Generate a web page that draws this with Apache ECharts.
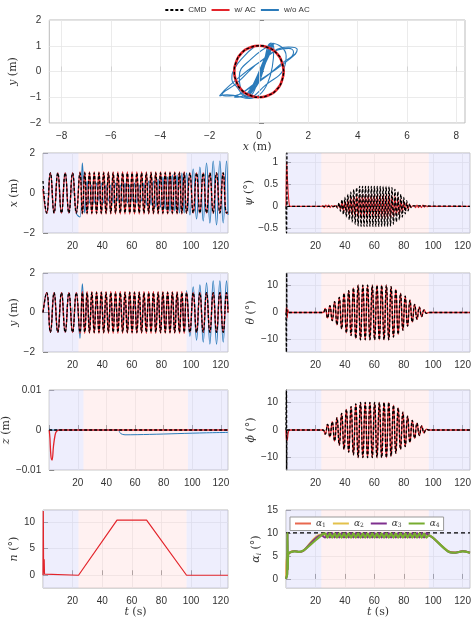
<!DOCTYPE html>
<html><head><meta charset="utf-8">
<script src="https://cdn.jsdelivr.net/npm/echarts@6/dist/echarts.min.js"></script>
<style>html,body{margin:0;padding:0;background:#fff}#c{width:474px;height:619px}</style>
</head><body><div id="c"></div>
<script>
// ---------- data ----------
const circX=[1,0.92,0.71,0.38,0,-0.38,-0.71,-0.92,-1,-0.92,-0.71,-0.38,0,0.38,0.71,0.92,1];
const circY=[0,0.38,0.71,0.92,1,0.92,0.71,0.38,0,-0.38,-0.71,-0.92,-1,-0.92,-0.71,-0.38,0];
const blueXY=[[-0.2,0.95],[-0.6,0.6],[-1.0,0.1],[-1.1,-0.3],[-0.9,-0.6],[-0.5,-1.0],[0.0,-0.3],[0.5,1.1],[0.6,0.9],[-0.4,-1.05],[-1.3,-0.9],[-1.6,-0.95],[-1.2,-0.55],[0,0.35],[1.2,0.95],[1.55,0.85],[1.2,0.45],[0,-0.35],[-1.2,-0.95],[-1.5,-0.9],[-0.9,-0.45],[0.2,0.5],[1.2,0.9],[1.4,0.75],[0.9,0.3],[0,-0.4],[-1.0,-1.0],[-0.3,-0.8],[0.4,0.7],[0.55,1.1],[-0.1,-0.5],[-0.5,-1.05],[0.3,0.6],[0.5,1.05],[0.0,-0.2],[-0.45,-1.0],[0.2,0.4],[0.45,1.0],[-0.2,-0.6],[-0.4,-0.95],[0.35,0.8],[0.5,1.1],[1.1,0.6],[1.0,0.1],[0.3,-0.5],[-0.4,-1.0],[-0.8,-0.2],[-0.3,0.5],[0.6,1.1],[0.2,0.2],[-0.5,-0.9]];
const tPre=[0,2.5,5,7.5,10,12.5,15,17.5,20,22.5,25];
const tMid=[26.6,28.2,29.8,31.4,33,34.6,36.2,37.8,39.4,41,42.6,44.2,45.8,47.4,49,50.6,52.2,53.8,55.4,57,58.6,60.2,61.8,63.4,65,66.6,68.2,69.8,71.4,73,74.6,76.2,77.8,79.4,81,82.6,84.2,85.8,87.4,89,90.6,92.2,93.8,95.4,97];
const tPost=[99.25,101.5,103.75,106,108.25,110.5,112.75,115,117.25,119.5,121.75,124,125];
const xCmd=[0.6,-1,1,-1,1,-1,1,-1,1,-1,1, -1,1,-1,1,-1,1,-1,1,-1,1,-1,1,-1,1,-1,1,-1,1,-1,1,-1,1,-1,1,-1,1,-1,1,-1,1,-1,1,-1,1,-1,1,-1,1,-1,1,-1,1,-1,1,-1, 1,-1,1,-1,1,-1,1,-1,1,-1,1,-1,-0.9];
const xRed=[0.2,-1,1,-1,1,-1,1,-1,1,-1,1.05, -1.05,1.05,-1.05,1.05,-1.05,1.05,-1.05,1.05,-1.05,1.05,-1.05,1.05,-1.05,1.05,-1.05,1.05,-1.05,1.05,-1.05,1.05,-1.05,1.05,-1.05,1.05,-1.05,1.05,-1.05,1.05,-1.05,1.05,-1.05,1.05,-1.05,1.05,-1.05,1.05,-1.05,1.05,-1.05,1.05,-1.05,1.05,-1.05,1.05,-1.0, 1,-1,1,-1,1,-1,1,-1,1,-1,1,-1,-1.0];
const xBlue=[0.2,-1,1,-1,1,-1,1,-1,1,-1,-1.2, 1.5,-1.0,0.6,-0.5,0.4,-0.5,0.5,-0.4,0.5,-0.5,0.4,-0.4,0.4,-0.5,0.5,-0.4,0.4,-0.4,0.5,-0.5,0.4,-0.4,0.5,-0.5,0.4,-0.4,0.5,-0.6,0.6,-0.6,0.6,-0.7,0.7,-0.7,0.8,-0.8,0.8,-0.9,0.9,-0.9,0.9,-1,1,-1,1, -1.1,1.2,-1.3,1.3,-1.4,1.5,-1.5,1.6,-1.6,1.6,-1.5,1.6,-1.1];
const yCmd=[0,1,-1,1,-1,1,-1,1,-1,1,-1, 1,-1,1,-1,1,-1,1,-1,1,-1,1,-1,1,-1,1,-1,1,-1,1,-1,1,-1,1,-1,1,-1,1,-1,1,-1,1,-1,1,-1,1,-1,1,-1,1,-1,1,-1,1,-1,1, -1,1,-1,1,-1,1,-1,1,-1,1,-1,1,0];
const yRed=[0,1,-1,1,-1,1,-1,1,-1,1,-1.05, 1.05,-1.05,1.05,-1.05,1.05,-1.05,1.05,-1.05,1.05,-1.05,1.05,-1.05,1.05,-1.05,1.05,-1.05,1.05,-1.05,1.05,-1.05,1.05,-1.05,1.05,-1.05,1.05,-1.05,1.05,-1.05,1.05,-1.05,1.05,-1.05,1.05,-1.05,1.05,-1.05,1.05,-1.05,1.05,-1.05,1.05,-1.05,1.05,-1.05,1.0, -1,1,-1,1,-1,1,-1,1,-1,1,-1,1,0];
const yBlue=[0,1,-1,1,-1,1,-1,1,-1,1,-1.3, 1.45,-0.9,0.6,-0.5,0.5,-0.4,0.4,-0.5,0.4,-0.4,0.5,-0.4,0.4,-0.4,0.4,-0.5,0.5,-0.4,0.4,-0.5,0.5,-0.4,0.4,-0.5,0.5,-0.5,0.5,-0.6,0.6,-0.6,0.7,-0.7,0.7,-0.8,0.8,-0.8,0.9,-0.9,0.9,-1,1,-1,1,-1,1.1, -1.2,1.3,-1.4,1.4,-1.5,1.5,-1.6,1.6,-1.6,1.6,-1.5,1.6,0.2];
const psiT=[34,35,36,37,38,39,40,41,42,43,44,45,46,47,48,49,50,51,52,53,54,55,56,57,58,59,60,61,62,63,64,65,66,67,68,69,70,71,72,73,74,75,76,77,78,79,80,81,82,83,84,85,86];
const psiCmd=[0.02,-0.04,0.08,-0.11,0.15,-0.18,0.2,-0.24,0.27,-0.3,0.32,-0.35,0.38,-0.4,0.42,-0.44,0.45,-0.45,0.45,-0.45,0.45,-0.45,0.45,-0.45,0.45,-0.45,0.45,-0.45,0.45,-0.45,0.45,-0.45,0.45,-0.45,0.45,-0.45,0.45,-0.44,0.42,-0.4,0.38,-0.35,0.33,-0.3,0.27,-0.24,0.2,-0.17,0.13,-0.1,0.06,-0.03,0.01];
const psiRed=[0.01,-0.02,0.05,-0.07,0.09,-0.11,0.12,-0.14,0.16,-0.18,0.19,-0.21,0.23,-0.24,0.25,-0.26,0.27,-0.27,0.27,-0.27,0.27,-0.27,0.27,-0.27,0.27,-0.27,0.27,-0.27,0.27,-0.27,0.27,-0.27,0.27,-0.27,0.27,-0.27,0.27,-0.26,0.25,-0.24,0.23,-0.21,0.2,-0.18,0.16,-0.14,0.12,-0.1,0.08,-0.06,0.04,-0.02,0.01];
const psiCmdHead=[[0,0],[0.4,-0.6],[0.6,1.2],[0.8,0],[34,0]];
const psiCmdTail=[[86,0],[125,0]];
const psiRedHead=[[0,0],[0.4,1.0],[1,0.6],[2,0.1],[3,0],[24,0],[25,0.02],[26,-0.03],[27,0.03],[28,-0.02],[29,0.03],[30,-0.03],[31,0.02],[32,-0.02],[33,0.02]];
const psiRedTail=[[87,0.02],[88,-0.03],[89,0.03],[90,-0.03],[91,0.02],[92,-0.03],[93,0.03],[94,-0.02],[95,0.02],[96,-0.01],[97,0],[125,0]];
const thetaCmd=[1.5,-2,2.5,-3,4,-4.5,5.5,-6,7,-7.5,8,-8.5,9,-9.5,10,-10,10,-10,10,-10,10,-10,10,-10,10,-10,10,-10,9.5,-9,8.5,-8,7,-6.5,6,-5,4.5,-3.5,3,-2.5,2,-1.5,1,-0.3,0];
const thetaCmdHead=[[0,0],[0.3,-14.5],[0.5,14.5],[0.7,0],[25,0]];
const thetaRedHead=[[0,0],[0.4,2],[0.8,-2],[1.3,1],[2,0],[25,0]];
const phiCmd=[-1.5,2,-2.5,3,-4,4.5,-5.5,6,-7,7.5,-8,8.5,-9,9.5,-10,10,-10,10,-10,10,-10,10,-10,10,-10,10,-10,10,-9.5,9,-8.5,8,-7,6.5,-6,5,-4.5,3.5,-3,2.5,-2,1.5,-1,0.3,0];
const phiCmdHead=[[0,0],[0.3,14.5],[0.5,-14.5],[0.7,0],[25,0]];
const phiRedHead=[[0,0],[0.5,-4],[1,-3],[1.5,-1],[2.5,0],[25,0]];
const attTail=[[97,0],[125,0]];
const zCmd=[[0,0],[125,0]];
const zRed=[[0,0],[0.5,-0.002],[1.2,-0.0065],[2,-0.0075],[3,-0.004],[4,-0.0015],[5,-0.0004],[7,0],[125,0]];
const zBlue=[[0,0.0003],[2,0],[48,0],[50,-0.0009],[53,-0.0012],[70,-0.0011],[90,-0.0009],[110,-0.0007],[125,-0.0006]];
const nRed=[[0,0],[0.2,12],[0.4,0.5],[0.8,3],[1,0.2],[1.3,0],[24,0],[50,10.3],[56,10.3],[60,10.3],[64,10.3],[70,10.3],[97,0],[125,0]];
const a1=[[0,0],[0.6,5],[2,5.4],[4,6],[6,6.1],[9,5.9],[12,6.1],[24,9.6],[96,9.6],[100,8.8],[110,6.1],[115,5.8],[120,6.1],[125,5.8]];
const a2=[[0,0],[0.6,5.5],[2,5.6],[4,6.1],[6,6],[9,5.8],[12,6.3],[23.5,9.7],[96.5,9.7],[100,9],[110,6.2],[115,5.7],[120,6.0],[125,5.6]];
const a34Head=[[0,0],[0.8,1],[1,10],[1.2,2],[1.5,5.5],[3,5.8],[6,6],[9,5.9],[12,6.2],[24,9.5]];
const a34Tail=[[97,9.5],[100,8.9],[110,6.0],[115,5.7],[120,6.0],[125,5.7]];
const a3=[9,10,9,10,9,10,9,10,9,10,9,10,9,10,9,10,9,10,9,10,9,10,9,10,9,10,9,10,9,10,9,10,9,10,9,10,9,10,9,10,9,10,9,10,9.5];
const a4=[9.9,9,9.9,9,9.9,9,9.9,9,9.9,9,9.9,9,9.9,9,9.9,9,9.9,9,9.9,9,9.9,9,9.9,9,9.9,9,9.9,9,9.9,9,9.9,9,9.9,9,9.9,9,9.9,9,9.9,9,9.9,9,9.9,9,9.5];
const alphaMax=[[0,10],[125,10]];
const xTicksTop=[-8,-6,-4,-2,0,2,4,6,8];

// ---------- build ----------
const tAll=tPre.concat(tMid,tPost);
const pair=(t,v)=>t.slice(0,Math.min(t.length,v.length)).map((x,i)=>[x,v[i]]);
const C_CMD='#000',C_RED='#e3242b',C_BLUE='#2b7bba';
const minus=v=>String(v).replace('-','−');
const grids=[
 {left:35,top:20,width:430,height:103},
 {left:43,top:153,width:185,height:80},{left:286,top:153,width:184,height:80},
 {left:43,top:273,width:185,height:79},{left:286,top:273,width:184,height:79},
 {left:43,top:390,width:185,height:80},{left:286,top:390,width:184,height:80},
 {left:43,top:510,width:185,height:79},{left:286,top:510,width:184,height:79}
].map(g=>Object.assign(g,{show:true,borderColor:'#bbb',borderWidth:1,backgroundColor:'#fff'}));
const lbl={color:'#333',fontSize:10,fontFamily:'Liberation Sans',formatter:minus};
const split={show:true,lineStyle:{color:'#e6e6e6',width:0.8}};
const nameStyle=(gap)=>({nameLocation:'middle',nameGap:gap,nameTextStyle:{color:'#333',fontSize:11,fontFamily:'DejaVu Serif',rich:{i:{fontStyle:'italic',fontFamily:'DejaVu Serif',fontSize:11,color:'#333'},s:{fontStyle:'italic',fontFamily:'DejaVu Serif',fontSize:7,color:'#333',padding:[6,0,0,0]}}}});
const xAxes=[Object.assign({type:'value',gridIndex:0,min:-8.5,max:8.35,name:'{i|x} (m)',
  axisLabel:Object.assign({},lbl,{customValues:xTicksTop}),axisTick:{show:true,inside:true,customValues:xTicksTop,lineStyle:{color:'#888'}},
  splitLine:{show:false},axisLine:{show:false}},nameStyle(10))];
for(let g=1;g<9;g++){
  xAxes.push(Object.assign({type:'value',gridIndex:g,min:0,max:125,interval:20,name:g>=7?'{i|t} (s)':'',
  axisLabel:Object.assign({},lbl,{formatter:v=>v===0?'':v}),axisTick:{show:true,inside:true,lineStyle:{color:'#888'}},
  splitLine:split,axisLine:{show:false}},nameStyle(12)));
}
function yA(g,min,max,ticks,name,gap,fmt){
  return Object.assign({type:'value',gridIndex:g,min:min,max:max,name:name,
   axisLabel:Object.assign({},lbl,{customValues:ticks},fmt?{formatter:fmt}:{}),axisTick:{show:true,inside:true,customValues:ticks,lineStyle:{color:'#888'}},
   splitLine:split,axisLine:{show:false}},nameStyle(gap));
}
const yAxes=[
 yA(0,-2,2,[-2,-1,0,1,2],'{i|y} (m)',20),
 yA(1,-2,2,[-2,0,2],'{i|x} (m)',22),
 yA(2,-0.6,1.2,[-0.5,0,0.5,1],'{i|ψ} (°)',26),
 yA(3,-2,2,[-2,0,2],'{i|y} (m)',22),
 yA(4,-14.5,14.5,[-10,0,10],'{i|θ} (°)',26),
 yA(5,-0.01,0.01,[-0.01,0,0.01],'{i|z} (m)',30),
 yA(6,-14.5,14.5,[-10,0,10],'{i|ϕ} (°)',26),
 yA(7,-2.4,12.2,[0,5,10],'{i|n} (°)',22),
 yA(8,-2,15,[0,5,10,15],'{i|α}{s|i} (°)',22)
];
const bg={silent:true,data:[
  [{xAxis:0,itemStyle:{color:'rgba(205,205,250,0.35)'}},{xAxis:24}],
  [{xAxis:24,itemStyle:{color:'rgba(255,215,215,0.35)'}},{xAxis:97}],
  [{xAxis:97,itemStyle:{color:'rgba(205,205,250,0.35)'}},{xAxis:125}]]};
const topGrid={silent:true,symbol:'none',label:{show:false},lineStyle:{color:'#e6e6e6',width:0.8,type:'solid'},
  data:xTicksTop.map(v=>({xAxis:v}))};
function L(name,g,data,color,w,opts){
  return Object.assign({type:'line',name:name,xAxisIndex:g,yAxisIndex:g,data:data,showSymbol:false,symbol:'none',
    lineStyle:{color:color,width:w},itemStyle:{color:color},animation:false,z:3},opts||{});
}
const dash={lineStyle:{color:C_CMD,width:1.3,type:[3,2]},z:5};
const series=[
 L('w/o AC',0,blueXY,C_BLUE,1.1,{smooth:0.5,markLine:topGrid,z:2}),
 L('w/ AC',0,pair(circX,circY),C_RED,2.6,{smooth:0.6}),
 L('CMD',0,pair(circX,circY),C_CMD,1,Object.assign({smooth:0.6},dash)),
];
series.push(L('w/o AC',1,pair(tAll,xBlue),C_BLUE,1.1,{smooth:0.5,markArea:bg}));
series.push(L('w/ AC',1,pair(tAll,xRed),C_RED,1.3,{smooth:0.5}));
series.push(L('CMD',1,pair(tAll,xCmd),C_CMD,1,Object.assign({smooth:0.5},dash)));
series.push(L('w/ AC',2,psiRedHead.concat(pair(psiT,psiRed),psiRedTail),C_RED,1.1,{markArea:bg,smooth:0.3}));
series.push(L('CMD',2,psiCmdHead.concat(pair(psiT,psiCmd),psiCmdTail),C_CMD,1,Object.assign({smooth:0.3},dash)));
series.push(L('w/o AC',3,pair(tAll,yBlue),C_BLUE,1.1,{smooth:0.5,markArea:bg}));
series.push(L('w/ AC',3,pair(tAll,yRed),C_RED,1.3,{smooth:0.5}));
series.push(L('CMD',3,pair(tAll,yCmd),C_CMD,1,Object.assign({smooth:0.5},dash)));
series.push(L('w/ AC',4,thetaRedHead.concat(pair(tMid,thetaCmd),attTail),C_RED,1.3,{markArea:bg,smooth:0.5}));
series.push(L('CMD',4,thetaCmdHead.concat(pair(tMid,thetaCmd),attTail),C_CMD,1,Object.assign({smooth:0.5},dash)));
series.push(L('w/o AC',5,zBlue,C_BLUE,1,{markArea:bg,smooth:0.3}));
series.push(L('w/ AC',5,zRed,C_RED,1.3,{smooth:0.4}));
series.push(L('CMD',5,zCmd,C_CMD,1,dash));
series.push(L('w/ AC',6,phiRedHead.concat(pair(tMid,phiCmd),attTail),C_RED,1.3,{markArea:bg,smooth:0.5}));
series.push(L('CMD',6,phiCmdHead.concat(pair(tMid,phiCmd),attTail),C_CMD,1,Object.assign({smooth:0.5},dash)));
series.push(L('w/ AC',7,nRed,C_RED,1.2,{markArea:bg}));
series.push(L('max',8,alphaMax,C_CMD,1.2,{lineStyle:{color:'#000',width:1.2,type:[4,3]},markArea:bg}));
series.push(L('α1',8,a1,'#e8684f',1.3,{smooth:0.3}));
series.push(L('α2',8,a2,'#e3c14b',1.3,{smooth:0.3}));
series.push(L('α3',8,a34Head.concat(pair(tMid,a3),a34Tail),'#7e2f8e',2,{smooth:0.3}));
series.push(L('α4',8,a34Head.concat(pair(tMid,a4),a34Tail),'#77ac30',2.2,{smooth:0.3}));

const chart=echarts.init(document.getElementById('c'),null,{renderer:'canvas'});
chart.setOption({
 animation:false,backgroundColor:'#fff',
 grid:grids,xAxis:xAxes,yAxis:yAxes,series:series,
 legend:[
  {data:['CMD','w/ AC','w/o AC'],top:1,left:'center',itemWidth:18,itemHeight:6,itemGap:4,
   itemStyle:{opacity:0},
   textStyle:{fontSize:8,color:'#333',fontFamily:'Liberation Sans'},selectedMode:false},
  {data:['α1','α2','α3','α4'],left:290,top:517,itemWidth:16,itemHeight:6,itemGap:6,padding:[2,4],
   itemStyle:{opacity:0},
   borderColor:'#999',borderWidth:1,backgroundColor:'#fff',selectedMode:false,
   formatter:n=>'{a|α}{s|'+n.slice(1)+'}',
   textStyle:{fontSize:9,color:'#333',rich:{a:{fontStyle:'italic',fontFamily:'DejaVu Serif',fontSize:9},s:{fontFamily:'DejaVu Serif',fontSize:6,padding:[4,0,0,0]}}}}
 ]
});
</script></body></html>
